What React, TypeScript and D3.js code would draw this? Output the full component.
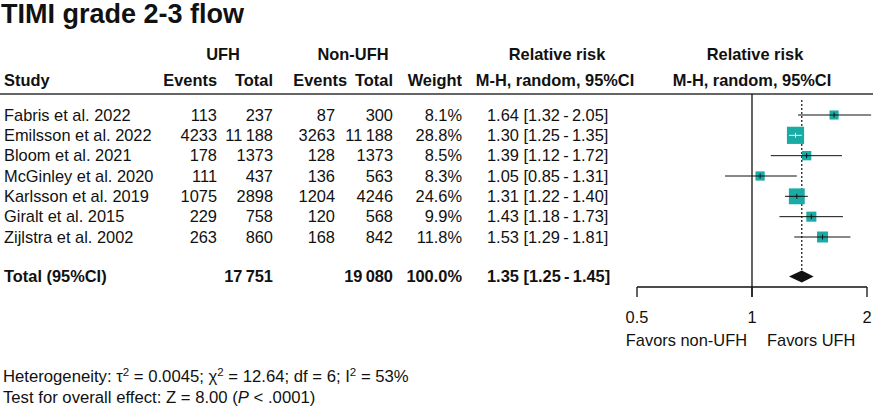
import * as d3 from 'd3';

const studies = [
  'Fabris et al. 2022',
  'Emilsson et al. 2022',
  'Bloom et al. 2021',
  'McGinley et al. 2020',
  'Karlsson et al. 2019',
  'Giralt et al. 2015',
  'Zijlstra et al. 2002',
];
const ufhEvents = [113, 4233, 178, 111, 1075, 229, 263];
const ufhTotal = [237, 11188, 1373, 437, 2898, 758, 860];
const nonEvents = [87, 3263, 128, 136, 1204, 120, 168];
const nonTotal = [300, 11188, 1373, 563, 4246, 568, 842];
const weights = [8.1, 28.8, 8.5, 8.3, 24.6, 9.9, 11.8];
const rr = [1.64, 1.30, 1.39, 1.05, 1.31, 1.43, 1.53];
const rrLow = [1.32, 1.25, 1.12, 0.85, 1.22, 1.18, 1.29];
const rrHigh = [2.05, 1.35, 1.72, 1.31, 1.40, 1.73, 1.81];

const pooledUfhTotal = 17751;
const pooledNonTotal = 19080;
const pooledWeight = 100.0;
const pooled = { rr: 1.35, low: 1.25, high: 1.45 };

const axisTicks = [0.5, 1, 2];

const W = 873;
const H = 406;
const FONT = '"Liberation Sans", Arial, Helvetica, sans-serif';
const TEAL = '#1aaba4';

// column right edges (rr column is left-aligned)
const col = { ev1: 217, tot1: 273, ev2: 335, tot2: 393, weight: 462, rr: 487 };
const hdr = { ev2: 347 };

const x = d3.scaleLog().domain([0.5, 2]).range([637, 867]);
const y = d3.scaleLinear().domain([0, studies.length - 1]).range([115, 237]);
const yTotal = 276.5;
const axisY = 287;
const boxSize = (w: number) => 3.2 * Math.sqrt(w);

const fmtN = (n: number) => (n >= 10000 ? d3.format(',')(n).replace(',', '\u2009') : String(n));
const fmtRR = (a: number, b: number, c: number) =>
  `${a.toFixed(2)} [${b.toFixed(2)}\u2009-\u2009${c.toFixed(2)}]`;

export default function App() {
  const t = { fontFamily: FONT, fontSize: 16.4, fill: '#111' } as const;
  return (
    <div style={{ position: 'fixed', left: 0, top: 0, background: '#fff' }}>
      <svg width={W} height={H} style={{ display: 'block' }}>
        <rect width={W} height={H} fill="#fff" />
        <text x={1} y={23} fontFamily={FONT} fontSize={27} fontWeight="bold" fill="#111">
          TIMI grade 2-3 flow
        </text>

        {/* headers */}
        <g {...t} fontWeight="bold">
          <text x={223} y={60} textAnchor="middle">UFH</text>
          <text x={353} y={60} textAnchor="middle">Non-UFH</text>
          <text x={557} y={60} textAnchor="middle">Relative risk</text>
          <text x={755} y={60} textAnchor="middle">Relative risk</text>
          <text x={4} y={86}>Study</text>
          <text x={col.ev1} y={86} textAnchor="end">Events</text>
          <text x={col.tot1} y={86} textAnchor="end">Total</text>
          <text x={hdr.ev2} y={86} textAnchor="end">Events</text>
          <text x={col.tot2} y={86} textAnchor="end">Total</text>
          <text x={col.weight} y={86} textAnchor="end">Weight</text>
          <text x={555} y={86} textAnchor="middle">M-H, random, 95%CI</text>
          <text x={752} y={86} textAnchor="middle">M-H, random, 95%CI</text>
        </g>
        <line x1={0} x2={W} y1={94} y2={94} stroke="#333" strokeWidth={1.5} />

        {/* study rows */}
        <g {...t}>
          {studies.map((s, i) => (
            <g key={s} transform={`translate(0,${y(i)})`}>
              <text x={4} dy="0.35em">{s}</text>
              <text x={col.ev1} dy="0.35em" textAnchor="end">{fmtN(ufhEvents[i])}</text>
              <text x={col.tot1} dy="0.35em" textAnchor="end">{fmtN(ufhTotal[i])}</text>
              <text x={col.ev2} dy="0.35em" textAnchor="end">{fmtN(nonEvents[i])}</text>
              <text x={col.tot2} dy="0.35em" textAnchor="end">{fmtN(nonTotal[i])}</text>
              <text x={col.weight} dy="0.35em" textAnchor="end">{weights[i].toFixed(1)}%</text>
              <text x={col.rr} dy="0.35em">{fmtRR(rr[i], rrLow[i], rrHigh[i])}</text>
            </g>
          ))}
        </g>

        {/* total row */}
        <g {...t} fontWeight="bold" transform={`translate(0,${yTotal})`}>
          <text x={4} dy="0.35em">Total (95%CI)</text>
          <text x={col.tot1} dy="0.35em" textAnchor="end">{fmtN(pooledUfhTotal)}</text>
          <text x={col.tot2} dy="0.35em" textAnchor="end">{fmtN(pooledNonTotal)}</text>
          <text x={col.weight} dy="0.35em" textAnchor="end">{pooledWeight.toFixed(1)}%</text>
          <text x={col.rr} dy="0.35em">{fmtRR(pooled.rr, pooled.low, pooled.high)}</text>
        </g>

        {/* null line and pooled dotted line */}
        <line x1={x(1)} x2={x(1)} y1={94} y2={axisY + 10} stroke="#111" strokeWidth={1.3} />
        <line
          x1={x(pooled.rr)} x2={x(pooled.rr)} y1={100} y2={yTotal - 6}
          stroke="#111" strokeWidth={1.2} strokeDasharray="2,2"
        />

        {/* study markers */}
        {studies.map((s, i) => {
          const sz = boxSize(weights[i]);
          const cx = x(rr[i]);
          const cy = y(i);
          const inside = x(rrLow[i]) >= cx - sz / 2 && x(rrHigh[i]) <= cx + sz / 2;
          const c = inside ? '#e8f6f5' : '#111';
          return (
            <g key={s + '-m'}>
              <rect x={cx - sz / 2} y={cy - sz / 2} width={sz} height={sz} fill={TEAL} />
              <line x1={x(rrLow[i])} x2={Math.min(x(rrHigh[i]), W)} y1={cy} y2={cy} stroke={c} strokeWidth={1} />
              <line x1={cx} x2={cx} y1={cy - 2.5} y2={cy + 2.5} stroke={c} strokeWidth={1} />
            </g>
          );
        })}

        {/* pooled diamond */}
        <path
          d={`M${x(pooled.low)},${yTotal} L${x(pooled.rr)},${yTotal - 6} L${x(pooled.high)},${yTotal} L${x(pooled.rr)},${yTotal + 6} Z`}
          fill="#111"
        />

        {/* axis */}
        <line x1={x(0.5)} x2={x(2)} y1={axisY} y2={axisY} stroke="#111" strokeWidth={1.3} />
        {axisTicks.map(v => (
          <g key={v}>
            <line x1={x(v)} x2={x(v)} y1={axisY} y2={axisY + 10} stroke="#111" strokeWidth={1.3} />
            <text x={x(v)} y={323} textAnchor="middle" {...t}>{String(v)}</text>
          </g>
        ))}
        <text x={x(1) - 5} y={346} textAnchor="end" {...t}>Favors non-UFH</text>
        <text x={x(1) + 15} y={346} {...t}>Favors UFH</text>

        {/* footer */}
        <g {...t} fontSize={16.7}>
          <text x={3} y={382}>
            Heterogeneity: τ<tspan dy={-6} fontSize={11.5}>2</tspan>
            <tspan dy={6}> = 0.0045; χ</tspan><tspan dy={-6} fontSize={11.5}>2</tspan>
            <tspan dy={6}> = 12.64; df = 6; I</tspan><tspan dy={-6} fontSize={11.5}>2</tspan>
            <tspan dy={6}> = 53%</tspan>
          </text>
          <text x={3} y={403}>
            Test for overall effect: Z = 8.00 (<tspan fontStyle="italic">P</tspan> &lt; .0001)
          </text>
        </g>
      </svg>
    </div>
  );
}
